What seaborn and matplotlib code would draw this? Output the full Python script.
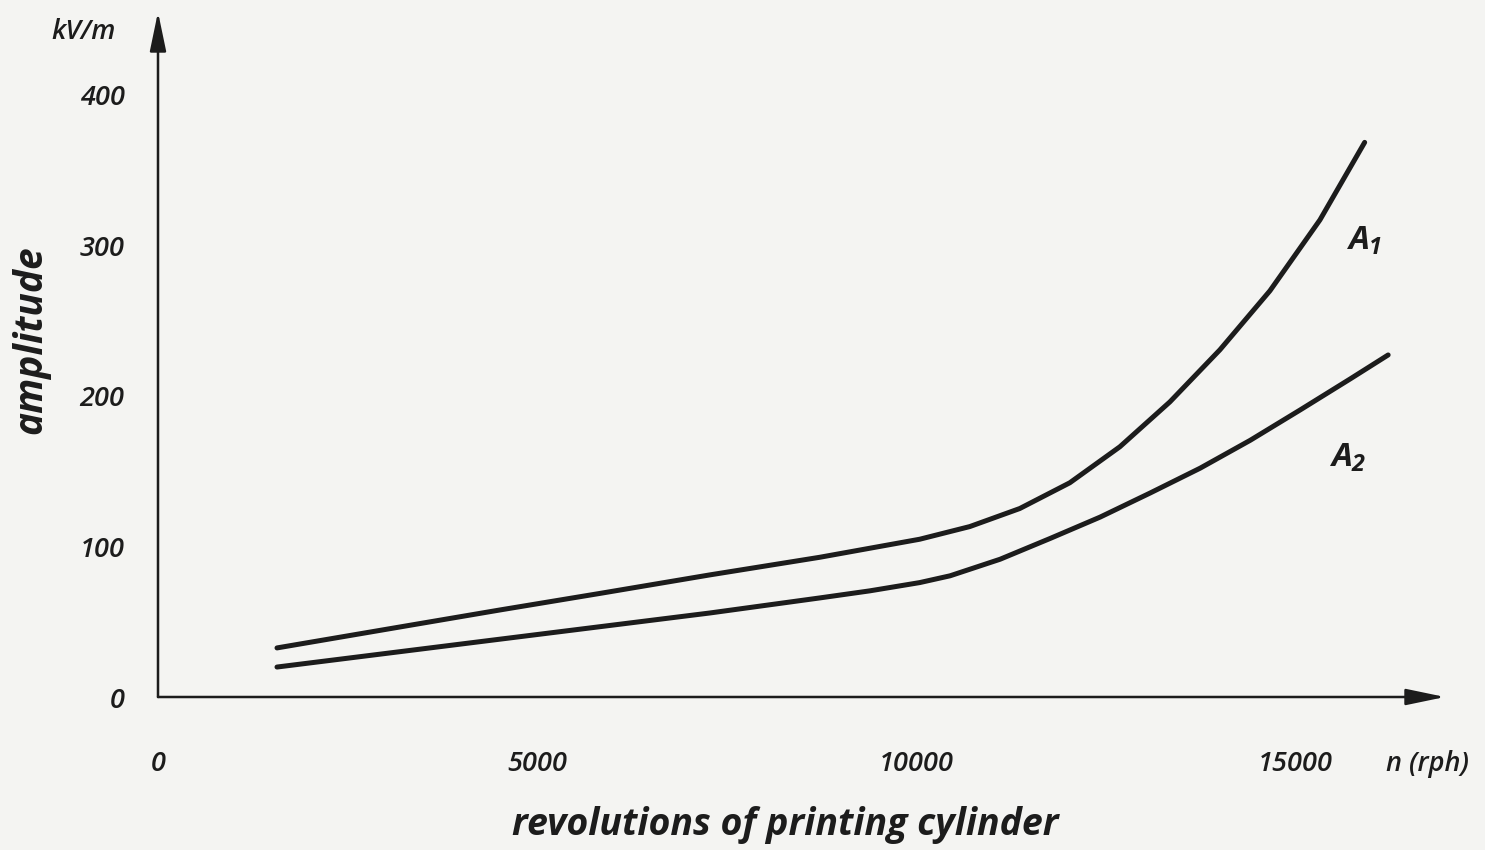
import numpy as np
import pandas as pd
import matplotlib
matplotlib.use("Agg")
import matplotlib.pyplot as plt
import seaborn as sns

# Field amplitude (kV/m) vs. cylinder speed (rph) for the two measuring positions
n_a1 = [1570, 3190, 4510, 5830, 7280, 8730, 9390, 10050, 10710, 11370,
        12030, 12690, 13350, 14010, 14670, 15330, 15920]
amp_a1 = [32.6, 46.5, 57.8, 68.8, 81.1, 92.8, 98.8, 104.8, 113.2, 125.2,
          142.3, 166.2, 196.0, 230.6, 269.8, 316.9, 368.4]

n_a2 = [1570, 4510, 7280, 8730, 9390, 10050, 10450, 11110, 11770, 12430,
        13090, 13750, 14410, 15070, 15730, 16230]
amp_a2 = [19.9, 38.4, 55.8, 65.8, 70.5, 76.0, 80.5, 91.5, 105.3, 119.5,
          135.5, 152.0, 170.5, 190.7, 211.3, 227.2]

x_ticks = [0, 5000, 10000, 15000]
y_ticks = [0, 100, 200, 300, 400]
curve_names = ["$A_1$", "$A_2$"]

df = pd.DataFrame({
    "n": n_a1 + n_a2,
    "amp": amp_a1 + amp_a2,
    "curve": ["A1"] * len(n_a1) + ["A2"] * len(n_a2),
})

sns.set_theme(style="white")
plt.rcParams["font.family"] = ["Open Sans", "DejaVu Sans"]
plt.rcParams["mathtext.fontset"] = "custom"
plt.rcParams["mathtext.it"] = "Open Sans:italic:bold"
plt.rcParams["mathtext.rm"] = "Open Sans:italic:bold"
ink = "#1c1c1c"
paper = "#f4f4f2"

fig = plt.figure(figsize=(14.85, 8.5), dpi=100, facecolor=paper)
ax = fig.add_axes([158 / 1485, 153 / 850, 1287 / 1485, 685 / 850])
ax.set_facecolor(paper)

sns.lineplot(data=df, x="n", y="amp", hue="curve", palette=[ink, ink],
             linewidth=3.6, legend=False, ax=ax)
for line in ax.get_lines():
    line.set_solid_capstyle("round")
    line.set_solid_joinstyle("round")

ax.set_xlim(0, 16980)
ax.set_ylim(0, 455)

for s in ax.spines.values():
    s.set_visible(False)

# axis arrows
arrow = dict(arrowstyle="-|>,head_length=1.2,head_width=0.25", lw=1.8,
             color=ink, shrinkA=0, shrinkB=0, mutation_scale=20)
ax.annotate("", xy=(1, 0), xytext=(0, 0), xycoords="axes fraction",
            arrowprops=arrow, annotation_clip=False)
ax.annotate("", xy=(0, 1), xytext=(0, 0), xycoords="axes fraction",
            arrowprops=arrow, annotation_clip=False)

tick_font = dict(family="Open Sans", style="italic", weight="semibold",
                 size=19.5)
ax.set_xticks(x_ticks)
ax.set_xticklabels([str(v) for v in x_ticks], fontdict=tick_font)
ax.set_yticks(y_ticks)
ax.set_yticklabels([str(v) for v in y_ticks], fontdict=tick_font)
ax.tick_params(axis="both", length=0, colors=ink)
ax.tick_params(axis="x", pad=38)
ax.tick_params(axis="y", pad=24)

ax.set_xlabel("revolutions of printing cylinder", fontsize=27,
              fontstyle="italic", fontweight="bold", color=ink)
ax.set_ylabel("amplitude", fontsize=28, fontstyle="italic",
              fontweight="bold", color=ink)
ax.xaxis.label.set_va("center")
ax.yaxis.label.set_va("center")
ax.xaxis.set_label_coords(0.487, -0.187)
ax.yaxis.set_label_coords(-0.0987, 0.521)

fig.text(84 / 1485, 1 - 32 / 850, "kV/m", color=ink, ha="center",
         va="center", **tick_font)
fig.text(1428 / 1485, 1 - 764 / 850, "n (rph)", color=ink, ha="center",
         va="center", **tick_font)

ax.text(15920, 303, curve_names[0], fontsize=24, color=ink,
        ha="center", va="center")
ax.text(15700, 159, curve_names[1], fontsize=24, color=ink,
        ha="center", va="center")

fig.savefig("out.png", dpi=100, facecolor=paper)
